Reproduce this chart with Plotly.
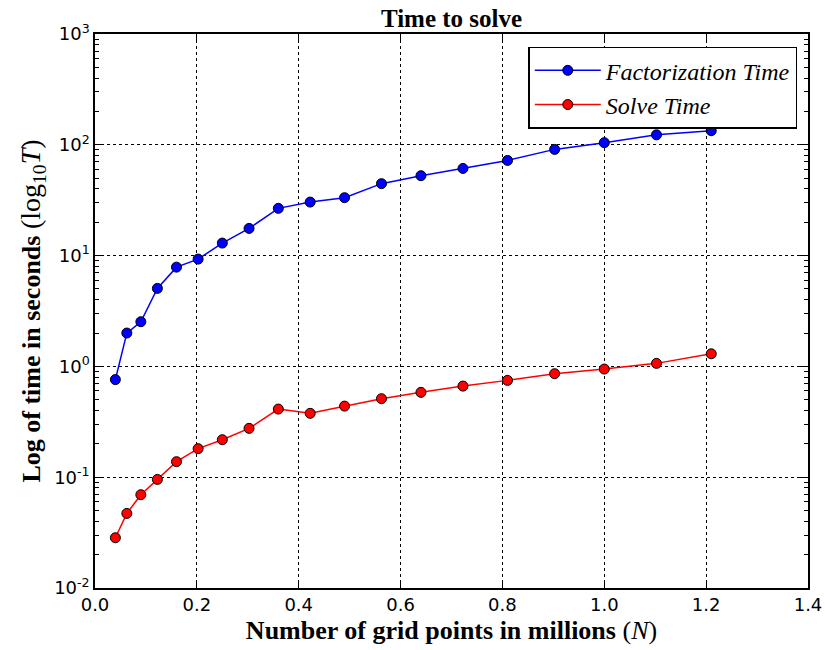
import plotly.graph_objects as go

grid_points = [0.04, 0.0625, 0.09, 0.1225, 0.16, 0.2025, 0.25, 0.3025, 0.36, 0.4225,
               0.49, 0.5625, 0.64, 0.7225, 0.81, 0.9025, 1.0, 1.1025, 1.21]
factorization_time = [0.76, 2.0, 2.53, 5.06, 7.87, 9.3, 12.97, 17.6, 26.7, 30.4,
                      33.3, 44.6, 52.6, 61.2, 72.3, 90.9, 104.5, 123, 134]
solve_time = [0.0284, 0.0471, 0.0695, 0.0955, 0.138, 0.181, 0.218, 0.276, 0.412, 0.377,
              0.438, 0.511, 0.583, 0.664, 0.748, 0.859, 0.946, 1.065, 1.30]
x_ticks = [0.0, 0.2, 0.4, 0.6, 0.8, 1.0, 1.2, 1.4]
x_tick_labels = ["0.0", "0.2", "0.4", "0.6", "0.8", "1.0", "1.2", "1.4"]
y_ticks = [0.01, 0.1, 1, 10, 100, 1000]
y_tick_labels = ["10<sup>-2</sup>", "10<sup>-1</sup>", "10<sup>0</sup>",
                 "10<sup>1</sup>", "10<sup>2</sup>", "10<sup>3</sup>"]

fig = go.Figure()
fig.add_trace(go.Scatter(
    x=grid_points, y=factorization_time, mode="lines+markers",
    name="<i>Factorization Time</i>",
    line=dict(color="#0000ff", width=1.5),
    marker=dict(color="#0000ff", size=10, line=dict(color="black", width=1)),
))
fig.add_trace(go.Scatter(
    x=grid_points, y=solve_time, mode="lines+markers",
    name="<i>Solve Time</i>",
    line=dict(color="#ff0000", width=1.5),
    marker=dict(color="#ff0000", size=10, line=dict(color="black", width=1)),
))

tick_font = dict(family="DejaVu Sans", size=18, color="black")
label_font = dict(family="Liberation Serif", size=26, color="black")

fig.update_layout(
    width=825, height=650,
    margin=dict(l=95, r=17, t=34, b=62, autoexpand=False),
    paper_bgcolor="white", plot_bgcolor="white",
    title=dict(text="<b>Time to solve</b>", x=0.5 * (95 + 808) / 825, xanchor="center",
               y=1 - 18 / 650, yanchor="middle",
               font=dict(family="Liberation Serif", size=25, color="black")),
    showlegend=True,
    legend=dict(x=0.985, y=0.977, xanchor="right", yanchor="top",
                bgcolor="white", bordercolor="black", borderwidth=1.5,
                font=dict(family="Liberation Serif", size=24, color="black"),
                itemwidth=66, tracegroupgap=0),
)
fig.update_xaxes(
    range=[0, 1.4], tickvals=x_ticks, ticktext=x_tick_labels, automargin=False,
    ticks="inside", ticklen=8, tickwidth=1, tickcolor="black",
    showline=True, linecolor="black", linewidth=1.5, mirror="ticks",
    showgrid=True, gridcolor="black", griddash="dot", gridwidth=1,
    zeroline=False, tickfont=tick_font,
    title=dict(text="<b>Number of grid points in millions </b>(<i>N</i>)", font=label_font, standoff=6),
)
fig.update_yaxes(
    type="log", range=[-2, 3], tickvals=y_ticks, ticktext=y_tick_labels, automargin=False,
    ticks="inside", ticklen=8, tickwidth=1, tickcolor="black",
    minor=dict(ticks="inside", ticklen=4, tickcolor="black", dtick="D1", showgrid=False),
    showline=True, linecolor="black", linewidth=1.5, mirror="ticks",
    showgrid=True, gridcolor="black", griddash="dot", gridwidth=1,
    zeroline=False, tickfont=tick_font,
    title=dict(text="<b>Log of time in seconds </b><span style=\"font-size:28px\">(log<sub>10</sub><i>T</i>)</span>",
               font=label_font, standoff=6),
)

fig.write_html("out.html")
